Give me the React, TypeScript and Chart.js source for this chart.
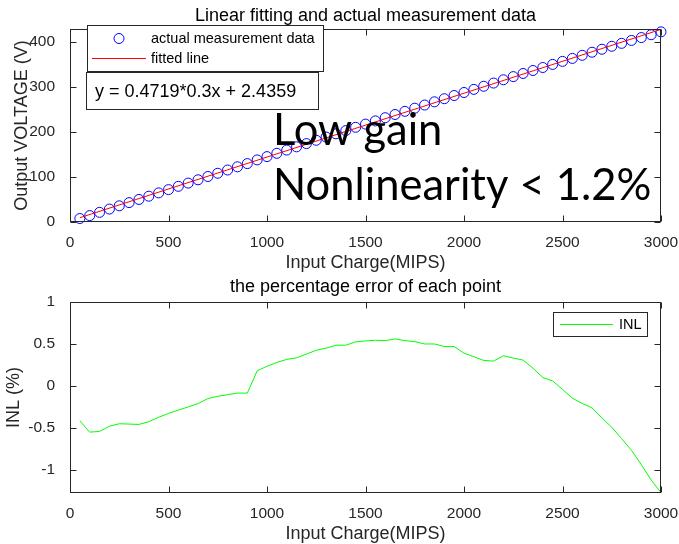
import React, { useEffect, useRef } from 'react';
import { Chart, registerables } from 'chart.js';

Chart.register(...registerables);

// ---------- data ----------
const chargeX = [
  50, 100, 150, 200, 250, 300, 350, 400, 450, 500,
  550, 600, 650, 700, 750, 800, 850, 900, 950, 1000,
  1050, 1100, 1150, 1200, 1250, 1300, 1350, 1400, 1450, 1500,
  1550, 1600, 1650, 1700, 1750, 1800, 1850, 1900, 1950, 2000,
  2050, 2100, 2150, 2200, 2250, 2300, 2350, 2400, 2450, 2500,
  2550, 2600, 2650, 2700, 2750, 2800, 2850, 2900, 2950, 3000,
];
const measuredV = [
  7.7, 14.2, 21.4, 28.7, 35.9, 43.0, 50.0, 57.2, 64.6, 71.8,
  79.1, 86.3, 93.6, 100.9, 108.1, 115.3, 122.4, 129.5, 137.7, 145.0,
  152.3, 159.5, 166.7, 173.9, 181.2, 188.4, 195.6, 202.7, 210.0, 217.1,
  224.2, 231.3, 238.4, 245.4, 252.4, 259.4, 266.5, 273.4, 280.5, 287.2,
  294.1, 301.0, 308.1, 315.4, 322.4, 329.4, 336.0, 342.6, 349.5, 356.2,
  362.8, 369.6, 376.5, 383.1, 389.7, 396.2, 402.6, 409.0, 415.3, 421.7,
];
const fitX = [50, 3000];
const fitV = [9.5, 427.1];
const inlPct = [
  -0.415, -0.55, -0.542, -0.48, -0.45, -0.454, -0.458, -0.427, -0.373, -0.327,
  -0.288, -0.25, -0.21, -0.15, -0.123, -0.104, -0.085, -0.085, 0.18, 0.235,
  0.28, 0.316, 0.335, 0.379, 0.426, 0.45, 0.485, 0.485, 0.525, 0.536,
  0.544, 0.54, 0.56, 0.54, 0.528, 0.5, 0.5, 0.47, 0.47, 0.39,
  0.348, 0.304, 0.296, 0.36, 0.332, 0.308, 0.212, 0.1, 0.06, -0.04,
  -0.146, -0.208, -0.262, -0.38, -0.492, -0.627, -0.766, -0.936, -1.12, -1.27,
];
const xTickVals = [0, 500, 1000, 1500, 2000, 2500, 3000];
const topYTickVals = [0, 100, 200, 300, 400];
const bottomYTickVals = [-1, -0.5, 0, 0.5, 1];

const topTitle = 'Linear fitting and actual measurement data';
const bottomTitle = 'the percentage error of each point';
const xLabel = 'Input Charge(MIPS)';
const topYLabel = 'Output VOLTAGE (V)';
const bottomYLabel = 'INL (%)';
const measuredLabel = 'actual measurement data';
const fitLabel = 'fitted line';
const inlLabel = 'INL';
const formulaText = 'y = 0.4719*0.3x + 2.4359';
const noteLines = ['Low gain', 'Nonlinearity < 1.2%'];

// ---------- style ----------
const FONT = "'Liberation Sans', Arial, sans-serif";
const AX = '#262626';
const TICK_LEN = 6;

const axesBoxPlugin = {
  id: 'axesBox',
  afterDatasetsDraw(chart: any) {
    const { ctx, chartArea } = chart;
    const l = Math.round(chartArea.left) + 0.5;
    const r = Math.round(chartArea.right) - 0.5;
    const t = Math.round(chartArea.top) + 0.5;
    const b = Math.round(chartArea.bottom) - 0.5;
    ctx.save();
    ctx.strokeStyle = AX;
    ctx.lineWidth = 1;
    ctx.strokeRect(l, t, r - l, b - t);
    ctx.beginPath();
    const xs = chart.scales.x;
    xs.ticks.forEach((tk: any) => {
      const p = Math.round(xs.getPixelForValue(tk.value)) + 0.5;
      ctx.moveTo(p, b); ctx.lineTo(p, b - TICK_LEN);
      ctx.moveTo(p, t); ctx.lineTo(p, t + TICK_LEN);
    });
    const ys = chart.scales.y;
    ys.ticks.forEach((tk: any) => {
      const p = Math.round(ys.getPixelForValue(tk.value)) + 0.5;
      ctx.moveTo(l, p); ctx.lineTo(l + TICK_LEN, p);
      ctx.moveTo(r, p); ctx.lineTo(r - TICK_LEN, p);
    });
    ctx.stroke();
    ctx.restore();
  },
};

const topOverlayPlugin = {
  id: 'topOverlay',
  afterDraw(chart: any) {
    const { ctx, chartArea } = chart;
    const L = chartArea.left;
    const T = chartArea.top;
    ctx.save();
    // legend box
    const lx = L + 17, ly = T - 4, lw = 236, lh = 46;
    ctx.fillStyle = '#fff';
    ctx.fillRect(lx, ly, lw, lh);
    ctx.strokeStyle = AX;
    ctx.lineWidth = 1;
    ctx.strokeRect(Math.round(lx) + 0.5, Math.round(ly) + 0.5, lw, lh);
    const ds = chart.data.datasets;
    // item 1: circle marker
    ctx.beginPath();
    ctx.strokeStyle = ds[1].borderColor;
    ctx.arc(L + 49, T + 9.5, 5, 0, Math.PI * 2);
    ctx.stroke();
    // item 2: line
    ctx.beginPath();
    ctx.strokeStyle = ds[0].borderColor;
    ctx.moveTo(L + 22, T + 29.5);
    ctx.lineTo(L + 76, T + 29.5);
    ctx.stroke();
    ctx.fillStyle = '#000';
    ctx.font = `14.5px ${FONT}`;
    ctx.textBaseline = 'middle';
    ctx.textAlign = 'left';
    ctx.fillText(ds[1].label, L + 81, T + 9.5);
    ctx.fillText(ds[0].label, L + 81, T + 29.5);
    // formula box
    const fx = L + 16, fy = T + 43, fw = 232, fh = 37;
    ctx.fillStyle = '#fff';
    ctx.fillRect(fx, fy, fw, fh);
    ctx.strokeStyle = AX;
    ctx.strokeRect(Math.round(fx) + 0.5, Math.round(fy) + 0.5, fw, fh);
    ctx.fillStyle = '#000';
    ctx.font = `18px ${FONT}`;
    ctx.textBaseline = 'alphabetic';
    ctx.fillText(formulaText, L + 25, T + 67.5);
    // big note text
    ctx.font = `43.5px Lato, 'Open Sans', sans-serif`;
    ctx.fillText(noteLines[0], L + 203, T + 116);
    ctx.fillText(noteLines[1], L + 203, T + 171);
    ctx.restore();
  },
};

const bottomOverlayPlugin = {
  id: 'bottomOverlay',
  afterDraw(chart: any) {
    const { ctx, chartArea } = chart;
    const R = chartArea.right;
    const T = chartArea.top;
    ctx.save();
    const bx = R - 108, by = T + 10, bw = 94, bh = 24;
    ctx.fillStyle = '#fff';
    ctx.fillRect(bx, by, bw, bh);
    ctx.strokeStyle = AX;
    ctx.lineWidth = 1;
    ctx.strokeRect(Math.round(bx) + 0.5, Math.round(by) + 0.5, bw, bh);
    const ds = chart.data.datasets[0];
    ctx.beginPath();
    ctx.strokeStyle = ds.borderColor;
    ctx.moveTo(R - 101, T + 22.5);
    ctx.lineTo(R - 48, T + 22.5);
    ctx.stroke();
    ctx.fillStyle = '#000';
    ctx.font = `14.5px ${FONT}`;
    ctx.textBaseline = 'middle';
    ctx.fillText(ds.label, R - 42, T + 22.5);
    ctx.restore();
  },
};

function xScale(height: number, titleBottomPad: number) {
  return {
    type: 'linear',
    min: 0,
    max: 3000,
    afterBuildTicks: (s: any) => { s.ticks = xTickVals.map((v) => ({ value: v })); },
    afterFit: (s: any) => {
      s.height = height;
      s.paddingLeft = 0;
      s.paddingRight = 0;
    },
    grid: { display: false },
    border: { display: false },
    ticks: {
      padding: 3,
      maxRotation: 0,
      autoSkip: false,
      color: AX,
      font: { family: FONT, size: 15.5 },
      callback: (v: any) => String(v),
    },
    title: {
      display: true,
      text: xLabel,
      color: AX,
      font: { family: FONT, size: 18, lineHeight: 1 },
      padding: { top: 0, bottom: titleBottomPad },
    },
  };
}

function yScale(min: number, max: number, ticks: number[], label: string, titlePad: number) {
  return {
    type: 'linear',
    min,
    max,
    afterBuildTicks: (s: any) => { s.ticks = ticks.map((v) => ({ value: v })); },
    afterFit: (s: any) => {
      s.width = 70;
      s.paddingTop = 0;
      s.paddingBottom = 0;
    },
    grid: { display: false },
    border: { display: false },
    ticks: {
      padding: 7,
      color: AX,
      font: { family: FONT, size: 15.5 },
      callback: (v: any) => String(v),
    },
    title: {
      display: true,
      text: label,
      color: AX,
      font: { family: FONT, size: 18, lineHeight: 1 },
      padding: { top: titlePad, bottom: 0 },
    },
  };
}

function titleOpts(text: string, top: number, bottom: number) {
  return {
    display: true,
    text,
    color: '#000',
    fullSize: false,
    font: { family: FONT, size: 18, weight: 'normal' as const, lineHeight: 1 },
    padding: { top, bottom },
  };
}

export default function App() {
  const topRef = useRef<HTMLCanvasElement>(null);
  const botRef = useRef<HTMLCanvasElement>(null);

  useEffect(() => {
    const top = new Chart(topRef.current as HTMLCanvasElement, {
      type: 'scatter',
      data: {
        datasets: [
          {
            type: 'line',
            label: fitLabel,
            data: fitX.map((x, i) => ({ x, y: fitV[i] })),
            borderColor: '#FF0000',
            borderWidth: 1,
            pointRadius: 0,
            order: 0,
          } as any,
          {
            label: measuredLabel,
            data: chargeX.map((x, i) => ({ x, y: measuredV[i] })),
            showLine: false,
            pointStyle: 'circle',
            pointRadius: 5,
            pointBorderWidth: 1,
            borderColor: '#0000FF',
            backgroundColor: 'rgba(0,0,0,0)',
            pointBackgroundColor: 'rgba(0,0,0,0)',
            clip: false,
            order: 1,
          } as any,
        ],
      },
      options: {
        animation: false,
        responsive: false,
        layout: { padding: { left: 0, right: 18, top: 0, bottom: 0 } },
        scales: {
          x: xScale(50, 0) as any,
          y: yScale(0, 428, topYTickVals, topYLabel, 13.5) as any,
        },
        plugins: {
          legend: { display: false },
          tooltip: { enabled: false },
          title: titleOpts(topTitle, 7, 4) as any,
        },
      },
      plugins: [axesBoxPlugin, topOverlayPlugin],
    });

    const bottom = new Chart(botRef.current as HTMLCanvasElement, {
      type: 'line',
      data: {
        datasets: [
          {
            label: inlLabel,
            data: chargeX.map((x, i) => ({ x, y: inlPct[i] })),
            borderColor: '#00FF00',
            borderWidth: 1,
            pointRadius: 0,
            tension: 0,
          },
        ],
      },
      options: {
        animation: false,
        responsive: false,
        layout: { padding: { left: 0, right: 18, top: 0, bottom: 0 } },
        scales: {
          x: xScale(51, 1) as any,
          y: yScale(-1.275, 1, bottomYTickVals, bottomYLabel, 5.5) as any,
        },
        plugins: {
          legend: { display: false },
          tooltip: { enabled: false },
          title: titleOpts(bottomTitle, 6.5, 5.5) as any,
        },
      },
      plugins: [axesBoxPlugin, bottomOverlayPlugin],
    });

    return () => {
      top.destroy();
      bottom.destroy();
    };
  }, []);

  return (
    <div style={{ position: 'absolute', left: 0, top: 0, width: 679, height: 544, background: '#fff' }}>
      <canvas ref={topRef} width={679} height={272} style={{ display: 'block', width: 679, height: 272 }} />
      <canvas ref={botRef} width={679} height={272} style={{ display: 'block', width: 679, height: 272 }} />
    </div>
  );
}
